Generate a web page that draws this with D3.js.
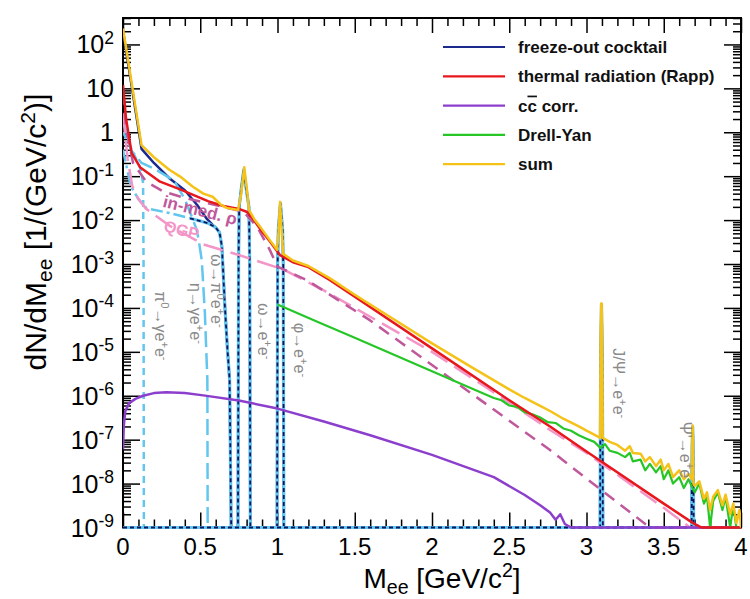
<!DOCTYPE html>
<html>
<head>
<meta charset="utf-8">
<script src="https://cdn.jsdelivr.net/npm/d3@7/dist/d3.min.js"></script>
<style>
  body { margin: 0; background: #fff; }
  svg { display: block; font-family: "Liberation Sans", Arial, Helvetica, sans-serif; }
</style>
</head>
<body>
<div id="chart"></div>
<script>
const width = 750;
const height = 599;

// axis ticks
const massTicks = [0, 0.5, 1, 1.5, 2, 2.5, 3, 3.5, 4];
const yieldDecades = [1e-9, 1e-8, 1e-7, 1e-6, 1e-5, 1e-4, 1e-3, 1e-2, 1e-1, 1, 10, 100];
const yieldLabels = ["10^{-9}", "10^{-8}", "10^{-7}", "10^{-6}", "10^{-5}", "10^{-4}",
  "10^{-3}", "10^{-2}", "10^{-1}", "1", "10", "10^{2}"];

// curves, [mass GeV/c^2, dN/dMee]
const sumCurve = [
  [0, 230], [0.12, 0.51], [0.2, 0.27], [0.3, 0.14], [0.37, 0.098], [0.45, 0.058],
  [0.52, 0.04], [0.58, 0.034], [0.63, 0.023], [0.67, 0.019], [0.745, 0.017],
  [0.765, 0.04], [0.785, 0.16], [0.805, 0.04], [0.815, 0.017], [0.85, 0.0105],
  [0.887, 0.0071], [0.95, 0.0035], [0.997, 0.0021], [1.006, 0.005], [1.017, 0.026],
  [1.028, 0.005], [1.037, 0.0017], [1.1, 0.0012], [1.2, 9.0e-4], [1.34, 4.7e-4],
  [1.5, 2.0e-4], [1.75, 5.6e-5], [2.0, 1.56e-5], [2.25, 4.6e-6], [2.5, 1.4e-6],
  [2.6, 8.9e-7], [2.7, 5.9e-7], [2.764, 4.5e-7], [2.85, 3.0e-7], [2.95, 2.0e-7],
  [3.0, 1.6e-7], [3.05, 1.3e-7], [3.088, 1.1e-7], [3.092, 3.2e-5], [3.095, 1.26e-4],
  [3.098, 1.26e-4], [3.101, 3.2e-5], [3.105, 1.1e-7], [3.15, 8.9e-8], [3.2, 7.6e-8],
  [3.25, 5.6e-8], [3.28, 7.1e-8], [3.3, 5.0e-8], [3.35, 4.8e-8], [3.38, 3.2e-8],
  [3.41, 4.0e-8], [3.45, 2.5e-8], [3.48, 3.5e-8], [3.5, 2.0e-8], [3.53, 2.8e-8],
  [3.56, 1.4e-8], [3.6, 2.0e-8], [3.63, 1.26e-8], [3.66, 1.66e-8], [3.682, 1.26e-8],
  [3.685, 1.26e-7], [3.687, 2.1e-7], [3.689, 1.26e-7], [3.692, 1.0e-8], [3.7, 8.9e-9],
  [3.73, 1.12e-8], [3.76, 4.5e-9], [3.78, 6.3e-9], [3.8, 2.5e-9], [3.82, 5.0e-9],
  [3.85, 7.1e-9], [3.88, 3.2e-9], [3.9, 5.6e-9], [3.93, 2.0e-9], [3.95, 3.5e-9],
  [3.97, 1.26e-9], [3.99, 2.5e-9], [4.0, 0]
];

const thermalCurve = [
  [0, 12], [0.02, 2.0], [0.056, 0.34], [0.11, 0.16], [0.24, 0.075], [0.37, 0.05],
  [0.45, 0.038], [0.55, 0.027], [0.65, 0.021], [0.75, 0.018], [0.8, 0.0155],
  [0.83, 0.012], [0.9, 0.0055], [0.95, 0.0033], [1.016, 0.0016], [1.1, 0.0011],
  [1.2, 8.5e-4], [1.34, 4.3e-4], [1.5, 1.8e-4], [2.0, 1.2e-5], [2.5, 7.9e-7],
  [2.764, 2.0e-7], [3.0, 5.4e-8], [3.5, 3.5e-9], [3.69, 1.26e-9], [3.745, 1e-9],
  [3.76, 0], [4.0, 0]
];

const qgpCurve = [
  [0, 2.7], [0.01, 1.2], [0.03, 0.25], [0.06, 0.06], [0.1, 0.03], [0.15, 0.018],
  [0.3, 0.0075], [0.52, 0.0028], [0.75, 0.0016], [1.035, 7.6e-4], [1.3, 2.5e-4],
  [1.6, 6.3e-5], [2.0, 1e-5], [2.5, 7e-7], [2.764, 1.66e-7], [3.0, 5e-8],
  [3.5, 2.8e-9], [3.67, 1e-9], [3.7, 0], [4.0, 0]
];

const inmedRhoCurve = [
  [0, 8], [0.02, 1.2], [0.065, 0.2], [0.15, 0.075], [0.26, 0.045], [0.4, 0.032],
  [0.55, 0.024], [0.7, 0.018], [0.78, 0.0155], [0.83, 0.01], [0.88, 0.0059],
  [0.95, 0.0021], [1.0, 8.7e-4], [1.19, 4.3e-4], [1.6, 5.2e-5], [2.0, 5e-6],
  [2.5, 2.7e-7], [2.764, 5.8e-8], [3.0, 1.3e-8], [3.41, 1e-9], [3.45, 0], [4.0, 0]
];

const charmCurve = [
  [0, 6e-8], [0.005, 2e-7], [0.015, 4.5e-7], [0.04, 6.8e-7], [0.08, 8.5e-7],
  [0.13, 1.0e-6], [0.2, 1.15e-6], [0.28, 1.2e-6], [0.4, 1.15e-6], [0.52, 1.02e-6],
  [0.75, 7.8e-7], [1.0, 5.1e-7], [1.3, 2.6e-7], [1.6, 1.26e-7], [2.0, 4.5e-8],
  [2.4, 1.4e-8], [2.6, 5.5e-9], [2.7, 3.2e-9], [2.764, 2.2e-9], [2.8, 1.5e-9],
  [2.83, 2.0e-9], [2.86, 1.2e-9], [2.9, 0], [4.0, 0]
];

const drellYanCurve = [
  [1.0, 1.2e-4], [1.25, 5.0e-5], [1.5, 2.1e-5], [1.75, 8.7e-6], [2.0, 3.6e-6],
  [2.25, 1.5e-6], [2.4, 8.9e-7], [2.45, 7.9e-7], [2.5, 6.0e-7], [2.55, 5.6e-7],
  [2.6, 4.2e-7], [2.65, 3.8e-7], [2.7, 3.2e-7], [2.75, 2.5e-7], [2.8, 2.4e-7],
  [2.85, 1.8e-7], [2.9, 1.6e-7], [2.95, 1.26e-7], [3.0, 1.05e-7], [3.05, 8.9e-8],
  [3.09, 6.5e-8], [3.12, 7.9e-8], [3.15, 5.6e-8], [3.2, 5.0e-8], [3.25, 4.0e-8],
  [3.28, 5.0e-8], [3.3, 3.2e-8], [3.35, 3.5e-8], [3.38, 2.0e-8], [3.41, 2.8e-8],
  [3.45, 1.8e-8], [3.48, 2.5e-8], [3.5, 1.26e-8], [3.53, 2.0e-8], [3.56, 1.0e-8],
  [3.6, 1.4e-8], [3.63, 7.9e-9], [3.66, 1.26e-8], [3.7, 6.3e-9], [3.73, 1.0e-8],
  [3.76, 3.5e-9], [3.78, 5.0e-9], [3.8, 0], [3.82, 4.0e-9], [3.85, 6.3e-9],
  [3.88, 2.5e-9], [3.9, 5.0e-9], [3.93, 0], [3.95, 3.2e-9], [3.97, 0], [4.0, 0]
];

// freeze-out cocktail below the omega, and its single sources
const cocktailLow = [
  [0, 200], [0.12, 0.42], [0.2, 0.2], [0.3, 0.09], [0.4, 0.048], [0.48, 0.022],
  [0.54, 0.011], [0.58, 0.0078]
];
const pi0Dalitz = [
  [0, 1.0], [0.05, 0.45], [0.11, 0.16], [0.13, 0.07], [0.133, 1e-3], [0.135, 0], [4.0, 0]
];
const etaDalitz = [
  [0, 2.0], [0.05, 0.4], [0.12, 0.2], [0.2, 0.15], [0.33, 0.08], [0.4, 0.03],
  [0.445, 0.012], [0.477, 0.006], [0.49, 0.0035], [0.51, 0.0012], [0.53, 7.6e-5],
  [0.546, 2.3e-6], [0.548, 0], [4.0, 0]
];
const omegaDalitz = [
  [0, 0.4], [0.05, 0.06], [0.1, 0.03], [0.153, 0.0186], [0.3, 0.0145], [0.434, 0.011],
  [0.5, 0.0095], [0.55, 0.0085], [0.6, 0.0068], [0.625, 0.0052], [0.64, 0.0025],
  [0.66, 1e-4], [0.675, 1.3e-5], [0.69, 2.3e-6], [0.70, 0], [4.0, 0]
];
const omegaPeak = [
  [0, 0], [0.744, 0], [0.746, 1e-6], [0.748, 1e-3], [0.752, 0.02], [0.765, 0.05],
  [0.782, 0.14], [0.798, 0.05], [0.815, 0.02], [0.82, 1e-3], [0.822, 1e-6], [0.824, 0], [4.0, 0]
];
const phiPeak = [
  [0, 0], [0.997, 0], [0.999, 1e-6], [1.001, 1e-3], [1.005, 0.006], [1.019, 0.024],
  [1.033, 0.006], [1.037, 1e-3], [1.039, 1e-6], [1.041, 0], [4.0, 0]
];
const jpsiPeak = [
  [0, 0], [3.088, 0], [3.0895, 1e-7], [3.092, 1e-5], [3.097, 1.2e-4], [3.102, 1e-5],
  [3.1045, 1e-7], [3.106, 0], [4.0, 0]
];
const psi2sPeak = [
  [0, 0], [3.68, 0], [3.682, 1e-8], [3.684, 8e-8], [3.687, 2e-7], [3.69, 8e-8],
  [3.692, 1e-8], [3.694, 0], [4.0, 0]
];

const legendNames = ["freeze-out cocktail", "thermal radiation (Rapp)", "cc corr.", "Drell-Yan", "sum"];

// decay labels, anchored at [mass, yield] where the text starts
const decayLabels = [
  ["π^{0}→γe^{+}e^{-}", 0.205, 2.4e-4],
  ["η→γe^{+}e^{-}", 0.432, 3.7e-4],
  ["ω→π^{0}e^{+}e^{-}", 0.57, 1.7e-3],
  ["ω→e^{+}e^{-}", 0.874, 1.3e-4],
  ["φ→e^{+}e^{-}", 1.107, 4.6e-5],
  ["J/Ψ→e^{+}e^{-}", 3.172, 1.2e-5],
  ["Ψ'→e^{+}e^{-}", 3.605, 2.6e-7]
];

const colors = {
  cocktail: "#1b2a8c",
  navy: "#0c1660",
  lightBlue: "#62c6ef",
  thermal: "#e8161d",
  charm: "#8c3fcc",
  drellYan: "#26c626",
  sum: "#f5c21a",
  qgp: "#f495c8",
  inmed: "#c0589c",
  label: "#8a8a8a"
};

const svg = d3.select("#chart").append("svg")
  .attr("width", width)
  .attr("height", height);

const x = d3.scaleLinear().domain([0, 4]).range([123, 741]);
const y = d3.scaleLog().domain([1e-9, 400]).range([527.5, 18]);
const yFloor = 1e-9;

// write ROOT-like latex (^{..} and _{..}) into a text element
function latex(sel, str, size) {
  const re = /([_^])\{([^}]*)\}/g;
  let last = 0, m, shift = 0;
  const push = (t, kind) => {
    const target = kind === "^" ? -0.38 * size : kind === "_" ? 0.2 * size : 0;
    sel.append("tspan")
      .attr("dy", target - shift)
      .style("font-size", (kind ? 0.7 * size : size) + "px")
      .text(t);
    shift = target;
  };
  while ((m = re.exec(str))) {
    if (m.index > last) push(str.slice(last, m.index), null);
    push(m[2], m[1]);
    last = re.lastIndex;
  }
  if (last < str.length) push(str.slice(last), null);
}

// ---- frame and ticks ----
const x0 = x.range()[0], x1 = x.range()[1];
const yb = y.range()[0], yt = y.range()[1];

const minorMass = d3.range(0, 41).map(i => i / 10).filter(v => Math.round(v * 10) % 5 !== 0);
const minorYield = [];
yieldDecades.forEach(d => {
  for (let k = 2; k <= 9; k++) if (k * d <= 400) minorYield.push(k * d);
});

function tickAxis(axis, tr, values, size) {
  const g = svg.append("g").attr("transform", tr)
    .call(axis.tickValues(values).tickSize(size).tickFormat(""));
  g.select(".domain").remove();
  g.selectAll(".tick line").attr("stroke", "#000").attr("stroke-width", 1.5);
  return g;
}

tickAxis(d3.axisBottom(x), `translate(0,${yb})`, massTicks, -15);
tickAxis(d3.axisBottom(x), `translate(0,${yb})`, minorMass, -8);
tickAxis(d3.axisTop(x), `translate(0,${yt})`, massTicks, -15);
tickAxis(d3.axisTop(x), `translate(0,${yt})`, minorMass, -8);
tickAxis(d3.axisLeft(y), `translate(${x0},0)`, yieldDecades, -17);
tickAxis(d3.axisLeft(y), `translate(${x0},0)`, minorYield, -8);
tickAxis(d3.axisRight(y), `translate(${x1},0)`, yieldDecades, -17);
tickAxis(d3.axisRight(y), `translate(${x1},0)`, minorYield, -8);

svg.append("rect")
  .attr("x", x0).attr("y", yt)
  .attr("width", x1 - x0).attr("height", yb - yt)
  .attr("fill", "none").attr("stroke", "#000").attr("stroke-width", 2);

// tick labels
svg.append("g").selectAll("text")
  .data(massTicks)
  .enter().append("text")
  .attr("x", d => x(d))
  .attr("y", yb + 27)
  .attr("text-anchor", "middle")
  .style("font-size", "24px")
  .text(d => d3.format("")(d));

yieldDecades.forEach((d, i) => {
  const t = svg.append("text")
    .attr("x", x0 - 9)
    .attr("y", y(d) + 9)
    .attr("text-anchor", "end");
  latex(t, yieldLabels[i], 25);
});

// axis titles
const xt = svg.append("text")
  .attr("x", 442).attr("y", 588)
  .attr("text-anchor", "middle");
latex(xt, "M_{ee} [GeV/c^{2}]", 28);

const ytl = svg.append("text")
  .attr("transform", "translate(46,232) rotate(-90)")
  .attr("text-anchor", "middle");
latex(ytl, "dN/dM_{ee} [1/(GeV/c^{2})]", 30);

// ---- curves ----
svg.append("clipPath").attr("id", "plot-clip")
  .append("rect")
  .attr("x", x0).attr("y", yt)
  .attr("width", x1 - x0).attr("height", yb - yt + 2);

const plot = svg.append("g").attr("clip-path", "url(#plot-clip)");

const line = d3.line()
  .x(d => x(d[0]))
  .y(d => y(Math.max(d[1], yFloor)));

function drawCurve(data, color, w, dash) {
  plot.append("path")
    .datum(data)
    .attr("d", line)
    .attr("fill", "none")
    .attr("stroke", color)
    .attr("stroke-width", w)
    .attr("stroke-linejoin", "round")
    .attr("stroke-dasharray", dash || null);
}

// cocktail = low-mass part + omega Dalitz tail + the vector meson peaks
const cocktailCurve = cocktailLow
  .concat(omegaDalitz.filter(d => d[0] >= 0.6 && d[0] <= 0.7))
  .concat(omegaPeak.slice(1, -1), phiPeak.slice(1, -1), jpsiPeak.slice(1, -1), psi2sPeak.slice(1));

drawCurve(cocktailCurve, colors.cocktail, 2.5);
drawCurve(pi0Dalitz, colors.lightBlue, 2.5, "7,5");
drawCurve(etaDalitz, colors.lightBlue, 2.5, "16,6");
drawCurve(omegaDalitz.filter(d => d[0] <= 0.45), colors.lightBlue, 2.5, "12,4,3,4");

// single sources drawn light blue with a dark dashed core
[omegaDalitz.filter(d => d[0] >= 0.434), omegaPeak, phiPeak, jpsiPeak, psi2sPeak].forEach(src => {
  drawCurve(src, colors.lightBlue, 3.2);
  drawCurve(src, colors.navy, 1.8, "4,3");
});

drawCurve(qgpCurve, colors.qgp, 2.5, "20,8");
drawCurve(inmedRhoCurve, colors.inmed, 2.5, "12,8");
drawCurve(charmCurve, colors.charm, 2.5);
drawCurve(drellYanCurve, colors.drellYan, 2.2);
drawCurve(thermalCurve, colors.thermal, 2.5);
drawCurve(sumCurve, colors.sum, 2.5);

// ---- labels on the curves ----
decayLabels.forEach(([txt, m, v]) => {
  const t = svg.append("text")
    .attr("transform", `translate(${x(m)},${y(v)}) rotate(90)`)
    .attr("dy", "0.35em")
    .attr("fill", colors.label);
  latex(t, txt, 16);
});

svg.append("text")
  .attr("transform", `translate(${x(0.49)},${y(0.0125)}) rotate(14)`)
  .attr("text-anchor", "middle")
  .attr("fill", colors.inmed)
  .style("font-size", "17px")
  .style("font-weight", "bold")
  .text("in-med. ρ");

svg.append("text")
  .attr("transform", `translate(${x(0.37)},${y(0.0045)}) rotate(14)`)
  .attr("text-anchor", "middle")
  .attr("fill", colors.qgp)
  .style("font-size", "16px")
  .style("font-weight", "bold")
  .text("QGP");

// ---- legend ----
const legendColors = [colors.cocktail, colors.thermal, colors.charm, colors.drellYan, colors.sum];
const legend = svg.append("g");
legendNames.forEach((name, i) => {
  const ly = 47 + i * 29.3;
  legend.append("line")
    .attr("x1", 443).attr("x2", 505)
    .attr("y1", ly).attr("y2", ly)
    .attr("stroke", legendColors[i])
    .attr("stroke-width", 2.2);
  const t = legend.append("text")
    .attr("x", 518).attr("y", ly + 6)
    .style("font-size", "17px")
    .style("font-weight", "bold")
    .attr("fill", "#111");
  if (name.startsWith("cc ")) {
    t.append("tspan").text("c");
    t.append("tspan").style("text-decoration", "overline").text("c");
    t.append("tspan").text(name.slice(2));
  } else {
    t.text(name);
  }
});
</script>
</body>
</html>
